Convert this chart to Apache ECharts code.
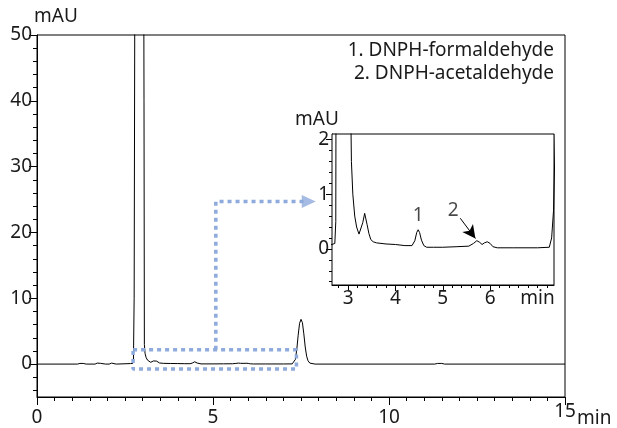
<!DOCTYPE html>
<html>
<head>
<meta charset="utf-8">
<script src="https://cdn.jsdelivr.net/npm/echarts@6/dist/echarts.min.js"></script>
<style>html,body{margin:0;padding:0;background:#fff}#c{width:617px;height:428px}</style>
</head>
<body>
<div id="c"></div>
<script>
// retention time (min) and detector signal (mAU)
const times = [0, 1.15, 1.22, 1.26, 1.31, 1.4, 1.65, 1.71, 1.75, 1.8, 1.95, 2.05, 2.09, 2.12, 2.17, 2.25, 2.66, 2.72, 2.74, 2.76, 2.78, 2.84, 2.9, 2.96, 3.02, 3.04, 3.05, 3.07, 3.10, 3.14, 3.18, 3.23, 3.27, 3.31, 3.35, 3.37, 3.40, 3.44, 3.48, 3.53, 3.6, 3.8, 4.0, 4.2, 4.35, 4.41, 4.45, 4.48, 4.51, 4.55, 4.6, 4.66, 4.8, 5.0, 5.3, 5.55, 5.65, 5.72, 5.78, 5.83, 5.88, 5.94, 6.0, 6.06, 6.15, 6.5, 7.0, 7.25, 7.3, 7.34, 7.38, 7.42, 7.46, 7.5, 7.54, 7.58, 7.62, 7.66, 7.7, 7.75, 7.8, 7.9, 11.3, 11.38, 11.5, 11.58, 15];
const signal = [0, 0, 0.1, 0.15, 0.1, 0, 0, 0.15, 0.2, 0.12, 0, 0, 0.12, 0.15, 0.1, 0, 0.08, 0.1, 0.5, 10, 60, 400, 450, 200, 90, 40, 3.0, 1.6, 1.0, 0.6, 0.4, 0.27, 0.3, 0.48, 0.65, 0.64, 0.45, 0.28, 0.17, 0.13, 0.11, 0.09, 0.08, 0.06, 0.06, 0.15, 0.3, 0.35, 0.3, 0.16, 0.06, 0.03, 0.03, 0.03, 0.04, 0.05, 0.1, 0.15, 0.12, 0.08, 0.11, 0.13, 0.1, 0.04, 0.02, 0.02, 0.02, 0.03, 0.2, 0.7, 2.2, 4.4, 6.2, 6.8, 6.3, 4.6, 2.6, 1.2, 0.5, 0.15, 0.04, 0, 0, 0.1, 0.1, 0, 0];

// main axis ticks / labels
const mainXLabels = [0, 5, 10];
const mainXEndLabel = [15];
const mainYLabels = [0, 10, 20, 30, 40, 50];
const mainYMinor = [-4, -2, 2, 4, 6, 8, 12, 14, 16, 18, 22, 24, 26, 28, 32, 34, 36, 38, 42, 44, 46, 48];
// inset axis ticks / labels
const insetXTicks = [3, 4, 5, 6];
const insetXLabels = [3, 4, 5, 6, 7];
const insetXMinor = [2.8, 3.2, 3.4, 3.6, 3.8, 4.2, 4.4, 4.6, 4.8, 5.2, 5.4, 5.6, 5.8, 6.2, 6.4, 6.6, 6.8, 7.0, 7.2];
const insetYLabels = [0, 1, 2];
const insetYMinor = [-0.6, -0.4, -0.2, 0.2, 0.4, 0.6, 0.8, 1.2, 1.4, 1.6, 1.8];

// zoomed region box and connector (min, mAU)
const boxT = [2.73, 7.37];
const boxY = [-0.76, 2.17];
const connT = [5.08, 5.08, 7.6];
const connY = [2.17, 24.7, 24.7];
const arrowTip = [7.72, 24.7];

// peak annotations (inset)
const peakNames = ['1', '2'];
const peakLabelT = [4.48, 5.22];
const peakLabelV = [0.6, 0.7];
const peak2Arrow = [[5.37, 0.56], [5.69, 0.19]];

const legendLines = ['1. DNPH-formaldehyde', '2. DNPH-acetaldehyde'];

const FONT = 'Noto Sans';
const TXT = '#1a1a1a';
const BLUE = '#8FAADC';
const trace = times.map((t, i) => [t, signal[i]]);
const box = [[boxT[0], boxY[1]], [boxT[1], boxY[1]], [boxT[1], boxY[0]], [boxT[0], boxY[0]], [boxT[0], boxY[1]]];
const conn = connT.map((t, i) => [t, connY[i]]);

const chart = echarts.init(document.getElementById('c'), null, {renderer: 'canvas'});
const lbl = {fontFamily: FONT, fontSize: 19, color: TXT};

chart.setOption({
  animation: false,
  backgroundColor: '#fff',
  title: legendLines.map((s, i) => ({
    text: s, right: 63, top: 41 + i * 23, padding: 0,
    textStyle: {fontFamily: FONT, fontSize: 19, fontWeight: 'normal', color: TXT}
  })),
  grid: [
    {left: 37, top: 35, right: 52, bottom: 31, show: true, borderColor: '#000', borderWidth: 1, backgroundColor: '#fff', containLabel: false, outerBoundsMode: 'none'},
    {left: 332, top: 134, right: 63, bottom: 143, show: true, borderColor: '#000', borderWidth: 1, backgroundColor: '#fff', containLabel: false, outerBoundsMode: 'none', z: 5}
  ],
  xAxis: [
    {gridIndex: 0, type: 'value', min: 0, max: 15, interval: 5, position: 'bottom',
     axisLine: {onZero: false, lineStyle: {color: '#000', width: 1}},
     axisTick: {length: 8, lineStyle: {color: '#000'}},
     minorTick: {show: true, splitNumber: 10, length: 4, lineStyle: {color: '#000'}},
     splitLine: {show: false}, minorSplitLine: {show: false},
     axisLabel: Object.assign({customValues: mainXLabels, margin: 11}, lbl),
     name: 'min', nameLocation: 'end', nameGap: 12,
     nameTextStyle: Object.assign({verticalAlign: 'top', align: 'left', lineHeight: 44}, lbl)},
    {gridIndex: 0, type: 'value', min: 0, max: 15, position: 'bottom',
     axisLine: {show: false, onZero: false},
     axisTick: {show: false},
     axisLabel: Object.assign({customValues: mainXEndLabel, margin: 5}, lbl),
     splitLine: {show: false}},
    {gridIndex: 1, type: 'value', min: 2.66, max: 7.35, position: 'bottom',
     axisLine: {onZero: false, lineStyle: {color: '#000'}},
     axisTick: {customValues: insetXTicks, length: 6, lineStyle: {color: '#000'}},
     axisLabel: Object.assign({customValues: insetXLabels, margin: 4, formatter: v => v === 7 ? 'min' : String(v)}, lbl),
     splitLine: {show: false}},
    {gridIndex: 1, type: 'value', min: 2.66, max: 7.35, position: 'bottom',
     axisLine: {show: false, onZero: false},
     axisTick: {customValues: insetXMinor, length: 3, lineStyle: {color: '#000'}},
     axisLabel: {show: false}, splitLine: {show: false}}
  ],
  yAxis: [
    {gridIndex: 0, type: 'value', min: -5, max: 50, position: 'left',
     axisLine: {show: true, onZero: false, lineStyle: {color: '#000'}},
     axisTick: {customValues: mainYLabels, length: 8, lineStyle: {color: '#000'}},
     axisLabel: Object.assign({customValues: mainYLabels, margin: 5}, lbl),
     splitLine: {show: false},
     name: 'mAU', nameLocation: 'end', nameGap: 1,
     nameTextStyle: Object.assign({align: 'center', padding: [0, 0, 0, 38]}, lbl)},
    {gridIndex: 0, type: 'value', min: -5, max: 50, position: 'left',
     axisLine: {show: false, onZero: false},
     axisTick: {customValues: mainYMinor, length: 4, lineStyle: {color: '#000'}},
     axisLabel: {show: false}, splitLine: {show: false}},
    {gridIndex: 1, type: 'value', min: -0.66, max: 2.1, position: 'left',
     axisLine: {show: true, onZero: false, lineStyle: {color: '#000'}},
     axisTick: {customValues: insetYLabels, length: 6, lineStyle: {color: '#000'}},
     axisLabel: Object.assign({customValues: insetYLabels, margin: 3}, lbl),
     splitLine: {show: false},
     name: 'mAU', nameLocation: 'end', nameGap: 5,
     nameTextStyle: Object.assign({align: 'center', padding: [0, 30, 0, 0]}, lbl)},
    {gridIndex: 1, type: 'value', min: -0.66, max: 2.1, position: 'left',
     axisLine: {show: false, onZero: false},
     axisTick: {customValues: insetYMinor, length: 3, lineStyle: {color: '#000'}},
     axisLabel: {show: false}, splitLine: {show: false}}
  ],
  series: [
    {type: 'line', xAxisIndex: 0, yAxisIndex: 0, data: trace, showSymbol: false, clip: true,
     lineStyle: {color: '#000', width: 1}, z: 3},
    {type: 'line', xAxisIndex: 0, yAxisIndex: 0, data: box, showSymbol: false, clip: false,
     lineStyle: {color: BLUE, width: 3.5, type: [4, 4]}, z: 4},
    {type: 'line', xAxisIndex: 0, yAxisIndex: 0, data: conn, showSymbol: false, clip: false,
     lineStyle: {color: BLUE, width: 3.5, type: [4, 4]}, z: 4},
    {type: 'scatter', xAxisIndex: 0, yAxisIndex: 0, data: [arrowTip], symbol: 'triangle',
     symbolRotate: -90, symbolSize: [13, 14], itemStyle: {color: BLUE}, z: 4, clip: false},
    {type: 'line', xAxisIndex: 2, yAxisIndex: 2, data: trace, showSymbol: false, clip: true,
     lineStyle: {color: '#000', width: 1}, z: 6,
     markLine: {silent: true, symbol: ['none', 'arrow'], symbolSize: [10, 13],
       lineStyle: {color: '#000', width: 1, type: 'solid'}, label: {show: false},
       data: [[{coord: peak2Arrow[0]}, {coord: peak2Arrow[1]}]]}},
    {type: 'scatter', xAxisIndex: 2, yAxisIndex: 2, symbolSize: 0, z: 7,
     data: peakNames.map((n, i) => ({name: n, value: [peakLabelT[i], peakLabelV[i]]})),
     label: {show: true, position: 'inside', formatter: p => p.name, fontFamily: FONT, fontSize: 19, color: TXT}}
  ]
});
</script>
</body>
</html>
